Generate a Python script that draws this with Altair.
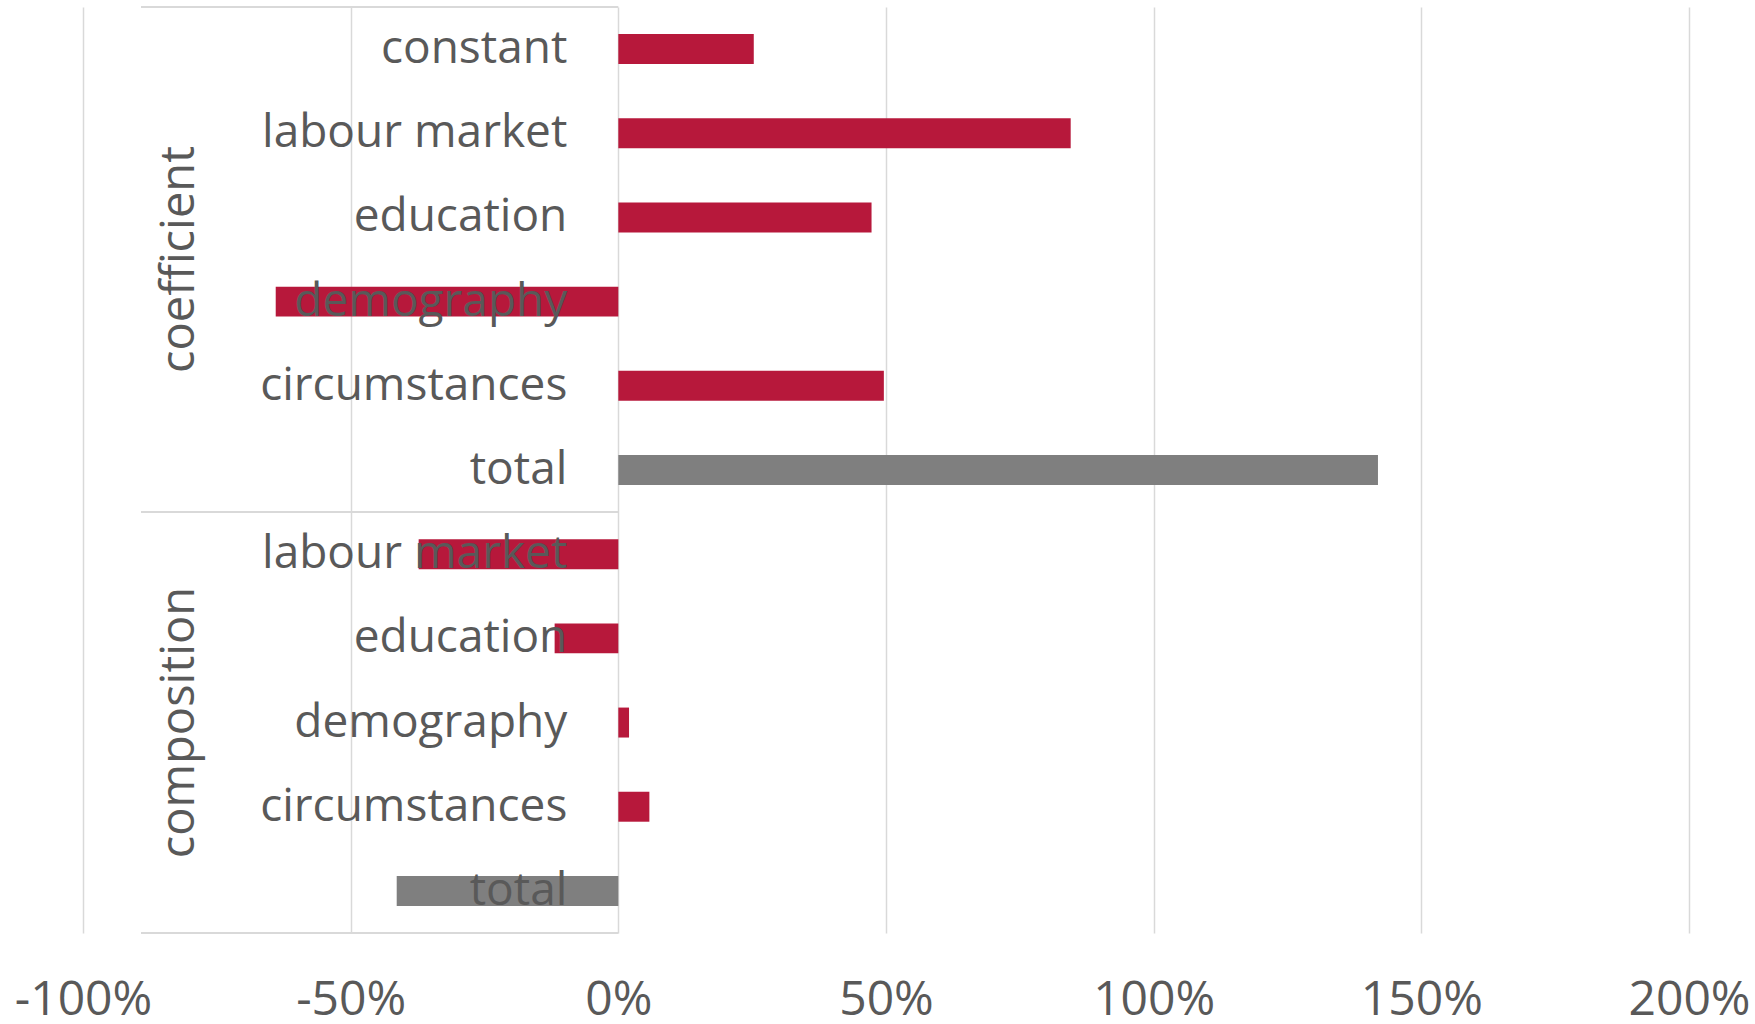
import altair as alt
import pandas as pd

# ---- data ----
groups = ["coefficient"] * 6 + ["composition"] * 5
labels = ["constant", "labour market", "education", "demography", "circumstances", "total",
          "labour market", "education", "demography", "circumstances", "total"]
values = [0.253, 0.845, 0.473, -0.64, 0.496, 1.419,
          -0.373, -0.119, 0.02, 0.058, -0.414]
kinds = ["item", "item", "item", "item", "item", "total",
         "item", "item", "item", "item", "total"]
keys = [f"{g[:4]}_{i:02d}" for i, g in enumerate(groups)]
x_ticks = [-1, -0.5, 0, 0.5, 1, 1.5, 2]

df = pd.DataFrame({"key": keys, "group": groups, "label": labels,
                   "value": values, "kind": kinds})

RED = "#B7183B"
GRAY = "#7F7F7F"
TXT = "#595959"
GRID = "#D9D9D9"
FONT = "Open Sans"
FS = 46
FS_AXIS = 48
FS_GROUP = 47

yscale = alt.Scale(domain=keys, paddingInner=0, paddingOuter=0)
xscale = alt.Scale(domain=[-1, 2], nice=False, zero=False)

base = alt.Chart(df)

bars = base.mark_bar(height=alt.RelativeBandSize(0.356)).encode(
    x=alt.X("value:Q", scale=xscale,
            axis=alt.Axis(values=x_ticks, title=None,
                          labelExpr="replace(format(datum.value, '.0%'), '\u2212', '-')",
                          domain=False, ticks=False, grid=True,
                          gridColor=GRID, gridWidth=1.5,
                          labelFont=FONT, labelFontSize=FS_AXIS, labelColor=TXT,
                          labelPadding=43, labelFlush=False, labelOverlap=False)),
    y=alt.Y("key:N", scale=yscale, axis=None),
    color=alt.Color("kind:N", scale=alt.Scale(domain=["item", "total"], range=[RED, GRAY]),
                    legend=None),
)

cat_text = base.mark_text(align="right", baseline="middle", dx=-51,
                          font=FONT, fontSize=FS, color=TXT).encode(
    x=alt.datum(0),
    y=alt.Y("key:N", scale=yscale, axis=None),
    text="label:N",
)

coef_lbl = alt.Chart(pd.DataFrame({"key": [keys[3]], "t": ["coefficient"]})).mark_text(
    angle=270, align="center", baseline="middle", font=FONT, fontSize=FS_GROUP, color=TXT).encode(
    x=alt.value(97),
    y=alt.Y("key:N", scale=yscale, axis=None, bandPosition=0),
    text="t:N",
)
comp_lbl = alt.Chart(pd.DataFrame({"key": [keys[8]], "t": ["composition"]})).mark_text(
    angle=270, align="center", baseline="middle", font=FONT, fontSize=FS_GROUP, color=TXT).encode(
    x=alt.value(97),
    y=alt.Y("key:N", scale=yscale, axis=None, bandPosition=0.5),
    text="t:N",
)

line_start = alt.Chart(pd.DataFrame({"key": [keys[0], keys[6]]})).mark_rule(
    color=GRID, strokeWidth=2).encode(
    x=alt.datum(0), x2=alt.value(58),
    y=alt.Y("key:N", scale=yscale, axis=None, bandPosition=0),
)
line_end = alt.Chart(pd.DataFrame({"key": [keys[10]]})).mark_rule(
    color=GRID, strokeWidth=2).encode(
    x=alt.datum(0), x2=alt.value(58),
    y=alt.Y("key:N", scale=yscale, axis=None, bandPosition=1),
)

chart = alt.layer(line_start, line_end, bars, cat_text, coef_lbl, comp_lbl).properties(
    width=1606, height=926,
    autosize=alt.AutoSizeParams(type="none"),
    padding={"left": 83, "top": 7, "right": 66, "bottom": 91},
    background="white",
).configure_view(stroke=None)

chart.save("out.html", embed_options={"renderer": "svg", "actions": False})
